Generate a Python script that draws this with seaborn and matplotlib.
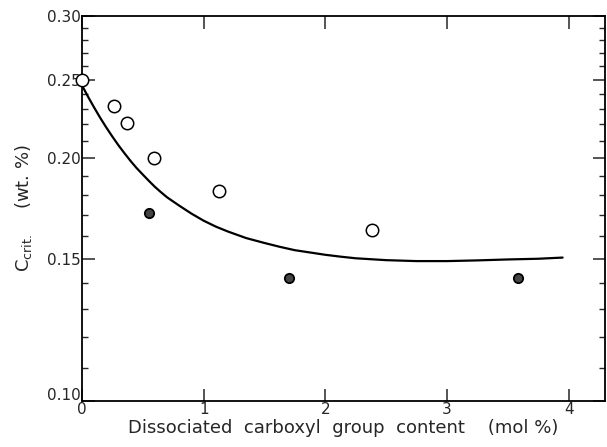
import numpy as np
import pandas as pd
import matplotlib
matplotlib.use("Agg")
import matplotlib.pyplot as plt
import matplotlib.transforms as mtransforms
import seaborn as sns
from matplotlib.ticker import FixedLocator, NullFormatter, FixedFormatter

# Data
open_x = [0.0, 0.26, 0.37, 0.59, 1.13, 2.38]
open_y = [0.250, 0.232, 0.221, 0.200, 0.182, 0.163]
filled_x = [0.55, 1.70, 3.58]
filled_y = [0.171, 0.142, 0.142]
curve_x = [0.0, 0.05, 0.1, 0.15, 0.2, 0.25, 0.3, 0.35, 0.4, 0.45, 0.5, 0.55,
           0.6, 0.65, 0.7, 0.8, 0.9, 1.0, 1.1, 1.2, 1.35, 1.5, 1.625, 1.75,
           1.875, 2.0, 2.125, 2.25, 2.5, 2.75, 3.0, 3.25, 3.5, 3.75, 3.95]
curve_y = [0.2460, 0.2381, 0.2309, 0.2242, 0.2181, 0.2125, 0.2073, 0.2026,
           0.1982, 0.1942, 0.1907, 0.1873, 0.1841, 0.1813, 0.1787, 0.1745,
           0.1706, 0.1672, 0.1644, 0.1621, 0.1591, 0.1569, 0.1552, 0.1537,
           0.1527, 0.1517, 0.1509, 0.1502, 0.1494, 0.1490, 0.1490, 0.1493,
           0.1497, 0.1500, 0.1505]
y_major = [0.10, 0.15, 0.20, 0.25, 0.30]
y_major_labels = ["0.10", "0.15", "0.20", "0.25", "0.30"]
y_minor = [0.11, 0.12, 0.13, 0.14, 0.16, 0.17, 0.18, 0.19,
           0.21, 0.22, 0.23, 0.24, 0.26, 0.27, 0.28, 0.29]
x_ticks = [0, 1, 2, 3, 4]
x_tick_labels = ["0", "1", "2", "3", "4"]

sns.set_style("ticks")
plt.rcParams["font.family"] = ["DejaVu Sans"]

fig = plt.figure(figsize=(6.07, 4.47), dpi=100)
ax = fig.add_axes([0.135, 0.103, 0.862, 0.862])

curve_df = pd.DataFrame({"x": curve_x, "y": curve_y})
open_df = pd.DataFrame({"x": open_x, "y": open_y})
filled_df = pd.DataFrame({"x": filled_x, "y": filled_y})

sns.lineplot(data=curve_df, x="x", y="y", ax=ax, color="black", lw=1.6,
             sort=False)
sns.scatterplot(data=open_df, x="x", y="y", ax=ax, marker="o", s=80,
                facecolor="white", edgecolor="black", linewidth=1.1,
                zorder=5, clip_on=False)
sns.scatterplot(data=filled_df, x="x", y="y", ax=ax, marker="o", s=45,
                color="#444444", edgecolor="black", linewidth=1.3, zorder=5)

ax.set_yscale("log")
ax.set_xlim(0, 4.3)
ax.set_ylim(0.10, 0.30)

ax.yaxis.set_major_locator(FixedLocator(y_major))
ax.yaxis.set_major_formatter(FixedFormatter(y_major_labels))
ax.yaxis.set_minor_locator(FixedLocator(y_minor))
ax.yaxis.set_minor_formatter(NullFormatter())
ax.xaxis.set_major_locator(FixedLocator(x_ticks))
ax.xaxis.set_major_formatter(FixedFormatter(x_tick_labels))

ax.tick_params(axis="both", which="major", direction="in", length=9,
               width=1.1, labelsize=11, top=True, right=True)
ax.tick_params(axis="both", which="minor", direction="in", length=4,
               width=1.0, right=True)
ax.tick_params(axis="x", which="major", pad=1)
ax.tick_params(axis="y", which="major", pad=1)

for sp in ax.spines.values():
    sp.set_visible(True)
    sp.set_linewidth(1.3)
    sp.set_color("black")

ax.set_xlabel("Dissociated  carboxyl  group  content    (mol %)",
              fontsize=13, labelpad=1)
ax.set_ylabel(r"C$_{\rm crit.}$    (wt. %)", fontsize=13, labelpad=9)

fig.canvas.draw()
# nudge the lowest y label up slightly, as in the reference
lbl = ax.get_yticklabels()[0]
lbl.set_transform(lbl.get_transform() +
                  mtransforms.ScaledTranslation(0, 5 / 72, fig.dpi_scale_trans))

fig.savefig("out.png", dpi=100)
